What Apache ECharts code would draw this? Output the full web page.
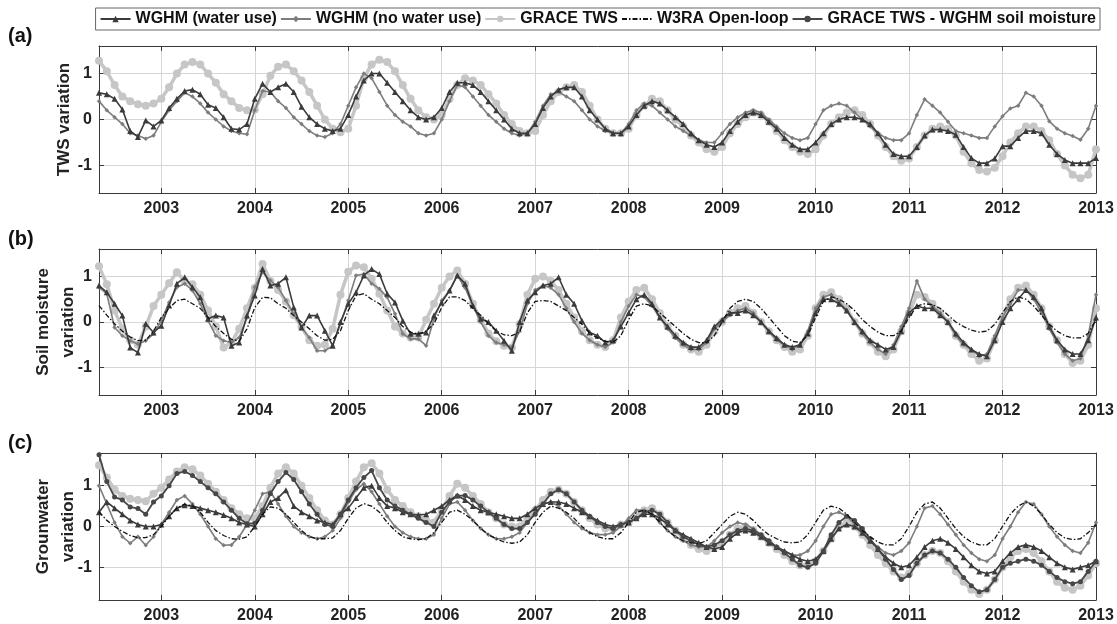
<!DOCTYPE html>
<html>
<head>
<meta charset="utf-8">
<title>TWS, soil moisture and groundwater variation</title>
<script src="https://cdn.jsdelivr.net/npm/echarts@6/dist/echarts.min.js"></script>
<style>
  html, body { margin: 0; padding: 0; background: #ffffff; }
  #chart { width: 1117px; height: 624px; }
</style>
</head>
<body>
<div id="chart"></div>
<script>
// Monthly time axis: May 2002 .. Jan 2013 (129 months)
const startYear = 2002, startMonth = 5, nMonths = 129;
const months = Array.from({ length: nMonths }, (_, i) => +(startYear + (startMonth - 1 + i) / 12).toFixed(4));

const yearTicks = [2003, 2004, 2005, 2006, 2007, 2008, 2009, 2010, 2011, 2012, 2013];
const valueTicks = [-1, 0, 1];

const seriesNames = ['WGHM (water use)', 'WGHM (no water use)', 'GRACE TWS', 'W3RA Open-loop', 'GRACE TWS - WGHM soil moisture'];
const panelLabels = ['(a)', '(b)', '(c)'];
const panelTitles = ['TWS variation', 'Soil moisture\nvariation', 'Grounwater\nvariation'];

// ---- (a) TWS ----
const aWaterUse = [
  0.58, 0.55, 0.45, 0.22, -0.25, -0.38, -0.02, -0.15,
  -0.02, 0.25, 0.45, 0.62, 0.65, 0.55, 0.32, 0.25, 0.05, -0.2, -0.22, -0.1,
  0.45, 0.78, 0.6, 0.7, 0.78, 0.6, 0.28, 0.05, -0.1, -0.2, -0.25, -0.2,
  0.1, 0.5, 0.85, 1.0, 1.0, 0.8, 0.6, 0.4, 0.2, 0.05, 0.0, 0.05,
  0.25, 0.6, 0.8, 0.8, 0.75, 0.6, 0.4, 0.2, 0.0, -0.2, -0.3, -0.3,
  -0.1, 0.25, 0.5, 0.65, 0.7, 0.7, 0.5, 0.2, 0.0, -0.2, -0.3, -0.3,
  -0.15, 0.1, 0.3, 0.4, 0.35, 0.2, 0.05, -0.1, -0.3, -0.45, -0.55, -0.6,
  -0.5, -0.25, -0.05, 0.1, 0.15, 0.1, -0.05, -0.2, -0.4, -0.55, -0.65, -0.65,
  -0.5, -0.3, -0.1, 0.0, 0.05, 0.05, 0.0, -0.1, -0.3, -0.55, -0.75, -0.8,
  -0.8, -0.6, -0.35, -0.22, -0.22, -0.25, -0.33, -0.6, -0.84, -0.95, -0.95, -0.85,
  -0.58, -0.58, -0.4, -0.25, -0.25, -0.3, -0.55, -0.75, -0.88, -0.95, -0.95, -0.95,
  -0.84
];
const aNoWaterUse = [
  0.4, 0.2, 0.05, -0.1, -0.3, -0.35, -0.42, -0.35,
  -0.05, 0.2, 0.4, 0.58, 0.5, 0.35, 0.15, 0.0, -0.15, -0.25, -0.3, -0.32,
  0.2, 0.62, 0.6, 0.4, 0.25, 0.05, -0.1, -0.25, -0.35, -0.38, -0.3, -0.1,
  0.3, 0.7, 1.0, 0.9, 0.6, 0.3, 0.1, -0.05, -0.15, -0.3, -0.35, -0.3,
  0.0, 0.4, 0.75, 0.7, 0.5, 0.3, 0.1, -0.05, -0.2, -0.3, -0.35, -0.3,
  -0.05, 0.3, 0.55, 0.6, 0.5, 0.4, 0.2, 0.0, -0.15, -0.25, -0.3, -0.3,
  -0.1, 0.2, 0.35, 0.3, 0.15, 0.0, -0.15, -0.25, -0.35, -0.45, -0.5, -0.5,
  -0.3, -0.1, 0.05, 0.15, 0.2, 0.15, 0.0, -0.15, -0.3, -0.4, -0.45, -0.4,
  -0.1, 0.2, 0.3, 0.35, 0.3, 0.15, 0.0, -0.15, -0.3, -0.4, -0.45, -0.45,
  -0.3, 0.1, 0.44, 0.3, 0.15, -0.05, -0.25, -0.3, -0.35, -0.4, -0.4, -0.15,
  0.07, 0.24, 0.3, 0.58, 0.5, 0.3, -0.04, -0.2, -0.3, -0.36, -0.44, -0.2,
  0.3
];
const aGrace = [
  1.28, 1.05, 0.75, 0.5, 0.4, 0.33, 0.3, 0.35,
  0.45, 0.7, 1.0, 1.2, 1.25, 1.2, 1.0, 0.8, 0.55, 0.4, 0.25, 0.2,
  0.22, 0.55, 0.95, 1.15, 1.2, 1.05, 0.85, 0.6, 0.3, 0.0, -0.2, -0.28,
  -0.2, 0.3, 0.9, 1.2, 1.3, 1.25, 1.05, 0.75, 0.45, 0.2, 0.05, 0.0,
  0.1, 0.45, 0.75, 0.9, 0.85, 0.75, 0.55, 0.35, 0.1, -0.1, -0.25, -0.3,
  -0.25, 0.1, 0.4, 0.6, 0.7, 0.75, 0.6, 0.3, 0.0, -0.2, -0.3, -0.3,
  -0.2, 0.1, 0.3, 0.45, 0.4, 0.2, 0.0, -0.15, -0.35, -0.5, -0.65, -0.7,
  -0.6, -0.3, -0.1, 0.05, 0.15, 0.1, -0.05, -0.25, -0.45, -0.6, -0.7, -0.75,
  -0.65, -0.35, -0.1, 0.05, 0.15, 0.2, 0.1, -0.1, -0.35, -0.6, -0.8, -0.9,
  -0.85, -0.6, -0.35, -0.2, -0.15, -0.2, -0.35, -0.7, -0.95, -1.1, -1.13, -1.05,
  -0.8, -0.5, -0.3, -0.15, -0.15, -0.25, -0.45, -0.75, -1.0, -1.2, -1.28, -1.2,
  -0.65
];

// ---- (b) soil moisture ----
const bWaterUse = [
  0.8, 0.65, 0.4, 0.14, -0.56, -0.67, -0.04, -0.23,
  -0.08, 0.36, 0.84, 0.98, 0.76, 0.54, 0.07, 0.14, 0.1, -0.52, -0.45, 0.14,
  0.58, 1.16, 0.8, 0.84, 0.98, 0.32, -0.12, 0.14, 0.14, -0.19, -0.52, 0.0,
  0.4, 0.65, 1.02, 1.16, 1.05, 0.62, 0.43, 0.03, -0.26, -0.26, -0.23, 0.14,
  0.43, 0.69, 1.02, 0.84, 0.36, 0.07, 0.0, -0.19, -0.41, -0.63, 0.0, 0.47,
  0.65, 0.8, 0.84, 0.98, 0.6, 0.4, 0.03, -0.23, -0.3, -0.45, -0.4, -0.1,
  0.2, 0.5, 0.6, 0.4, 0.1, -0.1, -0.3, -0.45, -0.55, -0.55, -0.4, -0.1,
  0.05, 0.2, 0.2, 0.25, 0.15, 0.0, -0.2, -0.35, -0.5, -0.55, -0.5, -0.25,
  0.2, 0.5, 0.5, 0.4, 0.25, 0.0, -0.2, -0.4, -0.5, -0.6, -0.55, -0.2,
  0.2, 0.35, 0.3, 0.3, 0.15, 0.0, -0.25, -0.45, -0.6, -0.7, -0.75, -0.4,
  0.0, 0.3, 0.5, 0.7, 0.55, 0.3, -0.1, -0.4, -0.6, -0.7, -0.7, -0.4,
  0.1
];
const bNoWaterUse = [
  0.76, 0.62, -0.12, -0.3, -0.41, -0.48, -0.41, -0.26,
  0.03, 0.43, 0.76, 0.84, 0.69, 0.4, 0.03, -0.3, -0.41, -0.45, -0.34, 0.1,
  0.76, 1.09, 0.91, 0.76, 0.47, 0.18, -0.12, -0.34, -0.63, -0.63, -0.52, -0.04,
  0.47, 1.02, 1.05, 0.84, 0.73, 0.54, 0.18, -0.26, -0.37, -0.37, -0.52, 0.07,
  0.47, 0.69, 1.02, 0.75, 0.35, 0.0, -0.3, -0.45, -0.5, -0.55, -0.2, 0.4,
  0.7, 0.8, 0.75, 0.6, 0.3, 0.0, -0.25, -0.4, -0.5, -0.55, -0.45, 0.0,
  0.35, 0.6, 0.55, 0.35, 0.1, -0.15, -0.35, -0.5, -0.6, -0.6, -0.45, -0.15,
  0.0, 0.15, 0.25, 0.3, 0.2, 0.0, -0.2, -0.4, -0.5, -0.6, -0.5, -0.2,
  0.3, 0.55, 0.6, 0.45, 0.25, 0.0, -0.25, -0.45, -0.6, -0.7, -0.5, -0.1,
  0.3, 0.9, 0.5, 0.35, 0.2, 0.0, -0.3, -0.5, -0.6, -0.75, -0.7, -0.3,
  0.1, 0.4, 0.7, 0.7, 0.5, 0.2, -0.15, -0.45, -0.7, -0.85, -0.8, -0.3,
  0.6
];
const bGrace = [
  1.22, 0.83, 0.25, -0.15, -0.4, -0.5, -0.1, 0.35,
  0.6, 0.85, 1.09, 0.9, 0.83, 0.6, 0.25, -0.1, -0.56, -0.45, -0.15, 0.3,
  0.75, 1.27, 0.9, 0.7, 0.45, 0.15, -0.1, -0.4, -0.52, -0.5, -0.15, 0.6,
  1.1, 1.24, 1.2, 0.95, 0.62, 0.25, -0.1, -0.25, -0.34, -0.34, 0.05, 0.4,
  0.75, 1.0, 1.13, 0.84, 0.4, 0.05, -0.25, -0.42, -0.52, -0.56, -0.05, 0.6,
  0.95, 1.0, 0.9, 0.7, 0.4, 0.1, -0.2, -0.4, -0.5, -0.55, -0.4, 0.1,
  0.45, 0.7, 0.75, 0.5, 0.2, -0.1, -0.3, -0.5, -0.6, -0.65, -0.5, -0.2,
  0.0, 0.2, 0.3, 0.35, 0.2, 0.0, -0.2, -0.4, -0.55, -0.65, -0.6, -0.3,
  0.3, 0.6, 0.65, 0.5, 0.3, 0.0, -0.25, -0.45, -0.65, -0.75, -0.6, -0.2,
  0.2, 0.6, 0.55, 0.4, 0.2, 0.0, -0.3, -0.5, -0.7, -0.85, -0.8, -0.4,
  0.1, 0.5, 0.75, 0.8, 0.6, 0.3, -0.1, -0.4, -0.7, -0.9, -0.85, -0.5,
  0.3
];
const bW3ra = [
  0.36, 0.15, -0.04, -0.2, -0.33, -0.41, -0.4, -0.2,
  0.1, 0.3, 0.47, 0.5, 0.4, 0.3, 0.1, -0.1, -0.25, -0.38, -0.42, -0.15,
  0.32, 0.54, 0.53, 0.4, 0.3, 0.14, 0.0, -0.15, -0.3, -0.4, -0.38, -0.19,
  0.25, 0.58, 0.62, 0.5, 0.4, 0.25, 0.1, -0.1, -0.22, -0.26, -0.2, -0.04,
  0.32, 0.55, 0.55, 0.47, 0.3, 0.15, -0.04, -0.2, -0.28, -0.3, -0.22, 0.2,
  0.45, 0.47, 0.45, 0.35, 0.25, 0.1, -0.05, -0.25, -0.35, -0.42, -0.45, -0.3,
  0.05, 0.35, 0.4, 0.35, 0.2, 0.05, -0.1, -0.25, -0.38, -0.45, -0.45, -0.3,
  0.0, 0.3, 0.45, 0.5, 0.45, 0.3, 0.1, -0.1, -0.3, -0.42, -0.45, -0.3,
  0.1, 0.45, 0.55, 0.5, 0.4, 0.25, 0.05, -0.1, -0.22, -0.3, -0.3, -0.2,
  0.1, 0.35, 0.4, 0.38, 0.3, 0.15, 0.0, -0.1, -0.18, -0.22, -0.2, -0.05,
  0.2, 0.45, 0.55, 0.5, 0.35, 0.15, -0.05, -0.2, -0.3, -0.35, -0.35, -0.25,
  0.05
];

// ---- (c) groundwater ----
const cWaterUse = [
  0.35, 0.6, 0.45, 0.3, 0.15, 0.05, 0.0, 0.0,
  0.05, 0.25, 0.45, 0.52, 0.5, 0.45, 0.4, 0.35, 0.28, 0.2, 0.1, 0.05,
  0.0, 0.3, 0.6, 0.7, 0.89, 0.5, 0.35, 0.25, 0.15, 0.1, 0.05, 0.3,
  0.45, 0.7, 0.95, 1.0, 0.7, 0.5, 0.45, 0.35, 0.3, 0.28, 0.3, 0.4,
  0.5, 0.65, 0.76, 0.65, 0.5, 0.4, 0.35, 0.3, 0.25, 0.2, 0.2, 0.3,
  0.45, 0.55, 0.6, 0.6, 0.55, 0.45, 0.35, 0.25, 0.15, 0.05, 0.0, 0.05,
  0.1, 0.2, 0.3, 0.3, 0.2, 0.05, -0.1, -0.2, -0.3, -0.4, -0.5, -0.55,
  -0.5, -0.3, -0.15, -0.1, -0.15, -0.25, -0.4, -0.5, -0.6, -0.7, -0.8, -0.85,
  -0.8, -0.6, -0.3, -0.05, 0.05, 0.0, -0.15, -0.35, -0.55, -0.75, -0.9, -1.0,
  -0.95, -0.75, -0.5, -0.35, -0.3, -0.4, -0.55, -0.75, -0.95, -1.1, -1.15, -1.1,
  -0.85, -0.65, -0.5, -0.45, -0.5, -0.6, -0.75, -0.9, -1.0, -1.05, -1.0, -0.95,
  -0.85
];
const cNoWaterUse = [
  1.0, 0.55, 0.1, -0.25, -0.41, -0.25, -0.46, -0.25,
  0.05, 0.35, 0.65, 0.75, 0.55, 0.3, 0.0, -0.3, -0.46, -0.45, -0.25, 0.05,
  0.4, 0.8, 0.85, 0.55, 0.25, 0.0, -0.15, -0.25, -0.3, -0.25, -0.1, 0.2,
  0.6, 0.9, 1.05, 0.85, 0.55, 0.25, 0.0, -0.15, -0.25, -0.3, -0.3, -0.2,
  0.2, 0.55, 0.6, 0.4, 0.15, -0.05, -0.2, -0.3, -0.3, -0.25, -0.15, 0.1,
  0.35, 0.55, 0.6, 0.5, 0.3, 0.1, -0.05, -0.15, -0.2, -0.2, -0.15, 0.0,
  0.2, 0.4, 0.4, 0.3, 0.1, -0.1, -0.25, -0.35, -0.45, -0.5, -0.5, -0.35,
  -0.15, 0.0, 0.1, 0.05, -0.05, -0.2, -0.35, -0.5, -0.6, -0.7, -0.7, -0.6,
  -0.35, 0.0, 0.3, 0.35, 0.25, 0.05, -0.15, -0.35, -0.5, -0.65, -0.7, -0.6,
  -0.4, 0.0, 0.45, 0.5, 0.3, 0.05, -0.2, -0.45, -0.65, -0.8, -0.85, -0.7,
  -0.3, 0.0, 0.35, 0.6, 0.55, 0.3, 0.0, -0.25, -0.45, -0.6, -0.65, -0.4,
  0.1
];
const cGrace = [
  1.5, 1.2, 0.9, 0.75, 0.68, 0.65, 0.62, 0.8,
  0.95, 1.15, 1.35, 1.45, 1.4, 1.25, 1.05, 0.85, 0.65, 0.45, 0.3, 0.2,
  0.2, 0.5, 0.95, 1.3, 1.45, 1.3, 1.0, 0.7, 0.4, 0.15, 0.05, 0.3,
  0.7, 1.1, 1.45, 1.55, 1.3, 0.9, 0.65, 0.5, 0.35, 0.25, 0.15, 0.1,
  0.4, 0.75, 1.05, 0.95, 0.75, 0.55, 0.35, 0.2, 0.05, 0.0, 0.0, 0.2,
  0.4, 0.65, 0.85, 0.9, 0.8, 0.6, 0.4, 0.2, 0.05, -0.05, -0.05, 0.05,
  0.1, 0.25, 0.4, 0.45, 0.3, 0.1, -0.1, -0.3, -0.45, -0.55, -0.6, -0.5,
  -0.4, -0.2, -0.05, 0.0, -0.1, -0.25, -0.4, -0.55, -0.7, -0.85, -0.95, -0.95,
  -0.85, -0.6, -0.3, 0.0, 0.1, 0.0, -0.2, -0.45, -0.7, -0.9, -1.1, -1.25,
  -1.15, -0.9, -0.7, -0.6, -0.65, -0.85, -1.1, -1.35, -1.55, -1.65, -1.55, -1.3,
  -1.0, -0.75, -0.6, -0.55, -0.65, -0.85, -1.1, -1.35, -1.5, -1.55, -1.45, -1.2,
  -0.9
];
const cW3ra = [
  0.36, 0.15, 0.0, -0.12, -0.22, -0.28, -0.27, -0.2,
  0.0, 0.25, 0.45, 0.55, 0.5, 0.35, 0.1, -0.1, -0.22, -0.3, -0.31, -0.25,
  0.0, 0.3, 0.48, 0.45, 0.3, 0.1, -0.1, -0.25, -0.3, -0.3, -0.28, -0.1,
  0.2, 0.45, 0.56, 0.5, 0.35, 0.1, -0.1, -0.25, -0.3, -0.32, -0.3, -0.15,
  0.1, 0.35, 0.4, 0.3, 0.15, -0.05, -0.2, -0.3, -0.38, -0.41, -0.38, -0.2,
  0.1, 0.35, 0.5, 0.45, 0.35, 0.2, 0.0, -0.15, -0.25, -0.3, -0.3, -0.15,
  0.1, 0.35, 0.4, 0.3, 0.1, -0.1, -0.25, -0.35, -0.4, -0.42, -0.35, -0.15,
  0.05, 0.25, 0.35, 0.3, 0.15, -0.05, -0.2, -0.3, -0.38, -0.4, -0.38, -0.2,
  0.1, 0.4, 0.5, 0.45, 0.3, 0.1, -0.1, -0.25, -0.38, -0.45, -0.45, -0.3,
  0.0, 0.35, 0.55, 0.6, 0.45, 0.2, -0.05, -0.25, -0.38, -0.45, -0.45, -0.3,
  0.0, 0.3, 0.5, 0.6, 0.5, 0.3, 0.05, -0.15, -0.28, -0.32, -0.3, -0.15,
  0.05
];
const cGraceMinusSM = [
  1.76, 1.1, 0.72, 0.65, 0.48, 0.44, 0.3, 0.6,
  0.75, 1.0, 1.3, 1.35, 1.25, 1.1, 0.95, 0.8, 0.6, 0.4, 0.2, 0.07,
  0.08, 0.4, 0.8, 1.1, 1.32, 1.15, 0.85, 0.55, 0.3, 0.05, 0.0, 0.3,
  0.65, 0.95, 1.2, 1.37, 0.95, 0.65, 0.5, 0.4, 0.3, 0.2, 0.1, 0.0,
  0.35, 0.6, 0.75, 0.76, 0.65, 0.5, 0.35, 0.2, 0.05, -0.05, -0.05, 0.1,
  0.3, 0.55, 0.8, 0.9, 0.8, 0.6, 0.4, 0.25, 0.1, 0.0, -0.05, 0.05,
  0.1, 0.2, 0.35, 0.4, 0.3, 0.1, -0.1, -0.25, -0.35, -0.45, -0.5, -0.45,
  -0.35, -0.2, -0.1, -0.05, -0.1, -0.2, -0.35, -0.5, -0.65, -0.8, -0.95, -1.0,
  -0.9, -0.6, -0.2, 0.1, 0.25, 0.15, -0.05, -0.3, -0.55, -0.8, -1.05, -1.3,
  -1.2, -0.9, -0.7, -0.6, -0.65, -0.8, -1.0, -1.25, -1.45, -1.6, -1.55, -1.3,
  -1.0, -0.9, -0.85, -0.8, -0.85, -0.95, -1.1, -1.25, -1.35, -1.4, -1.35, -1.1,
  -0.85
];

// Panel geometry (pixels) and y ranges
const panels = [
  { top: 46, height: 147, yMin: -1.6, yMax: 1.6 },
  { top: 249, height: 146, yMin: -1.6, yMax: 1.6 },
  { top: 453, height: 147, yMin: -1.8, yMax: 1.8 }
];
const plotLeft = 99, plotRight = 21;

const FONT = '"Liberation Sans", Arial, Helvetica, sans-serif';
const boxColor = '#3a3a3a';
const gridColor = '#d6d6d6';

// Line styles per quantity
const styles = {
  use:   { color: '#3b3b3b', width: 1.6, symbol: 'triangle', size: 6, z: 4 },
  noUse: { color: '#7d7d7d', width: 1.6, symbol: 'diamond', size: 4.5, z: 3 },
  grace: { color: '#c6c6c6', width: 3.5, symbol: 'circle', size: 8, z: 1 },
  w3ra:  { color: '#111111', width: 1.3, symbol: 'none', size: 0, z: 5, type: [5, 2, 1.5, 2] },
  gsm:   { color: '#474747', width: 1.8, symbol: 'circle', size: 5, z: 4 }
};

function pair(vals) { return vals.map((v, i) => [months[i], v]); }

function makeSeries(name, vals, panel, st) {
  return {
    type: 'line',
    name: name,
    xAxisIndex: panel * 2,
    yAxisIndex: panel * 2,
    data: pair(vals),
    symbol: st.symbol,
    symbolSize: st.size,
    showSymbol: st.symbol !== 'none',
    z: st.z,
    lineStyle: { color: st.color, width: st.width, type: st.type || 'solid' },
    itemStyle: { color: st.color },
    emphasis: { disabled: true },
    animation: false
  };
}

const yearLabel = v => String(Math.round(v));
const valueLabel = v => String(v);

const grids = [], xAxes = [], yAxes = [];
panels.forEach((p, i) => {
  grids.push({ left: plotLeft, right: plotRight, top: p.top, height: p.height, containLabel: false });
  const tickInside = { show: true, inside: true, length: 5, lineStyle: { color: boxColor, width: 1 }, customValues: yearTicks };
  xAxes.push({
    type: 'value', gridIndex: i, min: months[0], max: months[nMonths - 1], position: 'bottom',
    axisLine: { show: true, onZero: false, lineStyle: { color: boxColor, width: 1 } },
    axisTick: tickInside,
    axisLabel: { show: true, customValues: yearTicks, formatter: yearLabel, margin: 8, color: '#222', fontFamily: FONT, fontWeight: 'bold', fontSize: 16 },
    splitLine: { show: true, lineStyle: { color: gridColor, width: 1 } }
  });
  xAxes.push({
    type: 'value', gridIndex: i, min: months[0], max: months[nMonths - 1], position: 'top',
    axisLine: { show: true, onZero: false, lineStyle: { color: boxColor, width: 1 } },
    axisTick: tickInside,
    axisLabel: { show: false },
    splitLine: { show: false }
  });
  const yTick = { show: true, inside: true, length: 5, lineStyle: { color: boxColor, width: 1 }, customValues: valueTicks };
  yAxes.push({
    type: 'value', gridIndex: i, min: p.yMin, max: p.yMax, position: 'left',
    axisLine: { show: true, onZero: false, lineStyle: { color: boxColor, width: 1 } },
    axisTick: yTick,
    axisLabel: { show: true, customValues: valueTicks, formatter: valueLabel, margin: 7, color: '#222', fontFamily: FONT, fontWeight: 'bold', fontSize: 16 },
    splitLine: { show: true, lineStyle: { color: gridColor, width: 1 } }
  });
  yAxes.push({
    type: 'value', gridIndex: i, min: p.yMin, max: p.yMax, position: 'right',
    axisLine: { show: true, onZero: false, lineStyle: { color: boxColor, width: 1 } },
    axisTick: yTick,
    axisLabel: { show: false },
    splitLine: { show: false }
  });
});

const series = [
  // (a)
  makeSeries(seriesNames[2], aGrace, 0, styles.grace),
  makeSeries(seriesNames[1], aNoWaterUse, 0, styles.noUse),
  makeSeries(seriesNames[0], aWaterUse, 0, styles.use),
  // (b)
  makeSeries(seriesNames[2], bGrace, 1, styles.grace),
  makeSeries(seriesNames[1], bNoWaterUse, 1, styles.noUse),
  makeSeries(seriesNames[0], bWaterUse, 1, styles.use),
  makeSeries(seriesNames[3], bW3ra, 1, styles.w3ra),
  // (c)
  makeSeries(seriesNames[2], cGrace, 2, styles.grace),
  makeSeries(seriesNames[1], cNoWaterUse, 2, styles.noUse),
  makeSeries(seriesNames[0], cWaterUse, 2, styles.use),
  makeSeries(seriesNames[3], cW3ra, 2, styles.w3ra),
  makeSeries(seriesNames[4], cGraceMinusSM, 2, styles.gsm)
];

// Panel letters and rotated y-axis titles
const graphics = [];
panels.forEach((p, i) => {
  graphics.push({
    type: 'text', left: 8, top: p.top - 20,
    style: { text: panelLabels[i], fontFamily: FONT, fontWeight: 'bold', fontSize: 20, fill: '#111' }
  });
  const twoLine = panelTitles[i].indexOf('\n') >= 0;
  graphics.push({
    type: 'text',
    x: twoLine ? 56 : 64, y: p.top + p.height / 2,
    rotation: Math.PI / 2,
    style: {
      text: panelTitles[i], fontFamily: FONT, fontWeight: 'bold', fontSize: 17,
      lineHeight: 25, fill: '#222', align: 'center', verticalAlign: 'middle'
    }
  });
});

// Legend entries; the open-loop run is drawn as a bare dash-dot line
const legendData = seriesNames.map(n => n === 'W3RA Open-loop'
  ? { name: n, itemStyle: { opacity: 0 } }
  : { name: n });

const chart = echarts.init(document.getElementById('chart'), null, { renderer: 'canvas' });
chart.setOption({
  animation: false,
  backgroundColor: '#ffffff',
  legend: {
    data: legendData,
    right: 17, top: 8,
    orient: 'horizontal',
    itemWidth: 30, itemHeight: 8, itemGap: 3,
    padding: [3, 4, 3, 4],
    borderColor: '#666', borderWidth: 1,
    selectedMode: false,
    textStyle: { fontFamily: FONT, fontWeight: 'bold', fontSize: 16, color: '#111' }
  },
  grid: grids,
  xAxis: xAxes,
  yAxis: yAxes,
  series: series,
  graphic: graphics
});
</script>
</body>
</html>
